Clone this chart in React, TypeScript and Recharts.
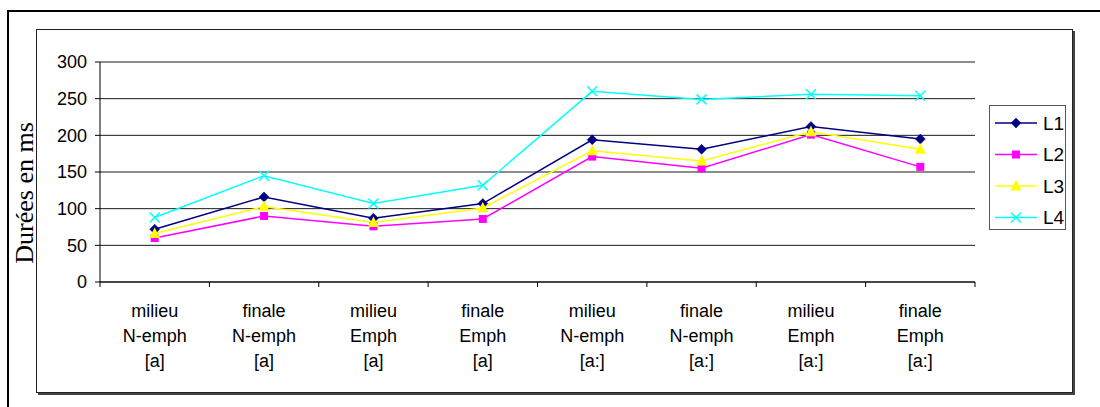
import React from 'react';
import { LineChart, Line, XAxis, YAxis, CartesianGrid, Legend } from 'recharts';

// Category labels (three lines each)
const positions = ['milieu', 'finale', 'milieu', 'finale', 'milieu', 'finale', 'milieu', 'finale'];
const emphasis = ['N-emph', 'N-emph', 'Emph', 'Emph', 'N-emph', 'N-emph', 'Emph', 'Emph'];
const vowels = ['[a]', '[a]', '[a]', '[a]', '[a:]', '[a:]', '[a:]', '[a:]'];

// Durations in ms for each speaker
const l1 = [72, 116, 87, 107, 194, 181, 212, 195];
const l2 = [60, 90, 76, 86, 171, 155, 201, 157];
const l3 = [66, 103, 81, 101, 179, 165, 205, 181];
const l4 = [88, 145, 107, 132, 260, 249, 256, 254];

const yTicks = [0, 50, 100, 150, 200, 250, 300];
const xBoundaries = [0, 1, 2, 3, 4, 5, 6, 7, 8];

const data = positions.map((p, i) => ({
  x: i + 0.5,
  L1: l1[i],
  L2: l2[i],
  L3: l3[i],
  L4: l4[i],
}));

const CHART_W = 1100;
const CHART_H = 407;
const MARGIN = { top: 62, right: 125, bottom: 25, left: 40 };
const Y_AXIS_W = 60;
const PLOT_W = CHART_W - MARGIN.left - Y_AXIS_W - MARGIN.right;
const HALF_BAND = PLOT_W / positions.length / 2;

const SANS = '"Liberation Sans", Arial, sans-serif';
const SERIF = '"Liberation Serif", "Times New Roman", serif';

const Diamond = ({ cx, cy, color }: any) =>
  cx == null || cy == null ? null : (
    <polygon points={`${cx},${cy - 5} ${cx + 5},${cy} ${cx},${cy + 5} ${cx - 5},${cy}`} fill={color} stroke={color} strokeWidth={0.5} />
  );
const Square = ({ cx, cy, color }: any) =>
  cx == null || cy == null ? null : <rect x={cx - 4} y={cy - 4} width={8} height={8} fill={color} />;
const Triangle = ({ cx, cy, color }: any) =>
  cx == null || cy == null ? null : (
    <polygon points={`${cx},${cy - 6} ${cx + 5.5},${cy + 4.5} ${cx - 5.5},${cy + 4.5}`} fill={color} />
  );
const Cross = ({ cx, cy, color }: any) =>
  cx == null || cy == null ? null : (
    <g stroke={color} strokeWidth={1.5}>
      <line x1={cx - 5} y1={cy - 5} x2={cx + 5} y2={cy + 5} />
      <line x1={cx - 5} y1={cy + 5} x2={cx + 5} y2={cy - 5} />
    </g>
  );

const series = [
  { key: 'L1', color: '#000080', Marker: Diamond },
  { key: 'L2', color: '#FF00FF', Marker: Square },
  { key: 'L3', color: '#FFFF00', Marker: Triangle },
  { key: 'L4', color: '#00FFFF', Marker: Cross },
];

const CategoryTick = (props: any) => {
  const { x, y, payload } = props;
  const i = payload.value;
  if (i >= positions.length) return null;
  const cx = x + HALF_BAND;
  const lines = [positions[i], emphasis[i], vowels[i]];
  return (
    <g>
      {lines.map((t, k) => (
        <text key={k} x={cx} y={y + 28 + k * 25} textAnchor="middle" fontFamily={SANS} fontSize={18} fill="#000">
          {t}
        </text>
      ))}
    </g>
  );
};

const LegendBox = () => (
  <svg width={77} height={125} style={{ display: 'block' }}>
    <rect x={0.5} y={0.5} width={76} height={124} fill="#fff" stroke="#555" strokeWidth={1} />
    {series.map((s, i) => {
      const cy = 18 + i * 31.5;
      const M = s.Marker;
      return (
        <g key={s.key}>
          <line x1={6} y1={cy} x2={48} y2={cy} stroke={s.color} strokeWidth={1.5} />
          <M cx={27} cy={cy} color={s.color} />
          <text x={54} y={cy} dy="0.355em" fontFamily={SANS} fontSize={19} fill="#000">
            {s.key}
          </text>
        </g>
      );
    })}
  </svg>
);

const AxisTitle = ({ viewBox }: any) => {
  const cy = viewBox.y + viewBox.height / 2 + 21;
  return (
    <text
      transform={`translate(${viewBox.x - 7}, ${cy}) rotate(-90)`}
      textAnchor="middle"
      fontFamily={SERIF}
      fontSize={26}
      fill="#000"
    >
      Durées en ms
    </text>
  );
};

export default function App() {
  return (
    <div style={{ position: 'absolute', left: 0, top: 0, width: CHART_W, height: CHART_H, overflow: 'hidden', background: '#fff' }}>
      {/* outer frame */}
      <div style={{ position: 'absolute', left: 7, top: 10, width: 1300, height: 600, border: '2px solid #000', boxSizing: 'border-box' }} />
      {/* chart area frame */}
      <div
        style={{
          position: 'absolute',
          left: 36,
          top: 29,
          width: 1037,
          height: 364,
          border: '1px solid #222',
          boxShadow: '2px 2px 0 #444',
          boxSizing: 'border-box',
          background: '#fff',
        }}
      />
      <div style={{ position: 'absolute', left: 0, top: 0 }}>
        <LineChart width={CHART_W} height={CHART_H} data={data} margin={MARGIN}>
          <CartesianGrid vertical={false} stroke="#1a1a1a" strokeWidth={1} />
          <XAxis
            dataKey="x"
            type="number"
            domain={[0, 8]}
            ticks={xBoundaries}
            interval={0}
            tick={<CategoryTick />}
            tickSize={5}
            axisLine={{ stroke: '#000' }}
            tickLine={{ stroke: '#000' }}
            height={100}
          />
          <YAxis
            domain={[0, 300]}
            ticks={yTicks}
            interval={0}
            width={Y_AXIS_W}
            tickSize={5}
            tickMargin={8}
            axisLine={{ stroke: '#000' }}
            tickLine={{ stroke: '#000' }}
            tick={{ fontFamily: SANS, fontSize: 18, fill: '#000' }}
            label={<AxisTitle />}
          />
          <Legend
            layout="vertical"
            align="center"
            verticalAlign="middle"
            content={<LegendBox />}
            wrapperStyle={{ position: 'absolute', left: 989, top: 105, width: 77, height: 125 }}
          />
          {series.map((s) => (
            <Line
              key={s.key}
              dataKey={s.key}
              stroke={s.color}
              strokeWidth={1.5}
              isAnimationActive={false}
              dot={(p: any) => <s.Marker key={`${s.key}-${p.index}`} cx={p.cx} cy={p.cy} color={s.color} />}
              activeDot={false}
            />
          ))}
        </LineChart>
      </div>
    </div>
  );
}
